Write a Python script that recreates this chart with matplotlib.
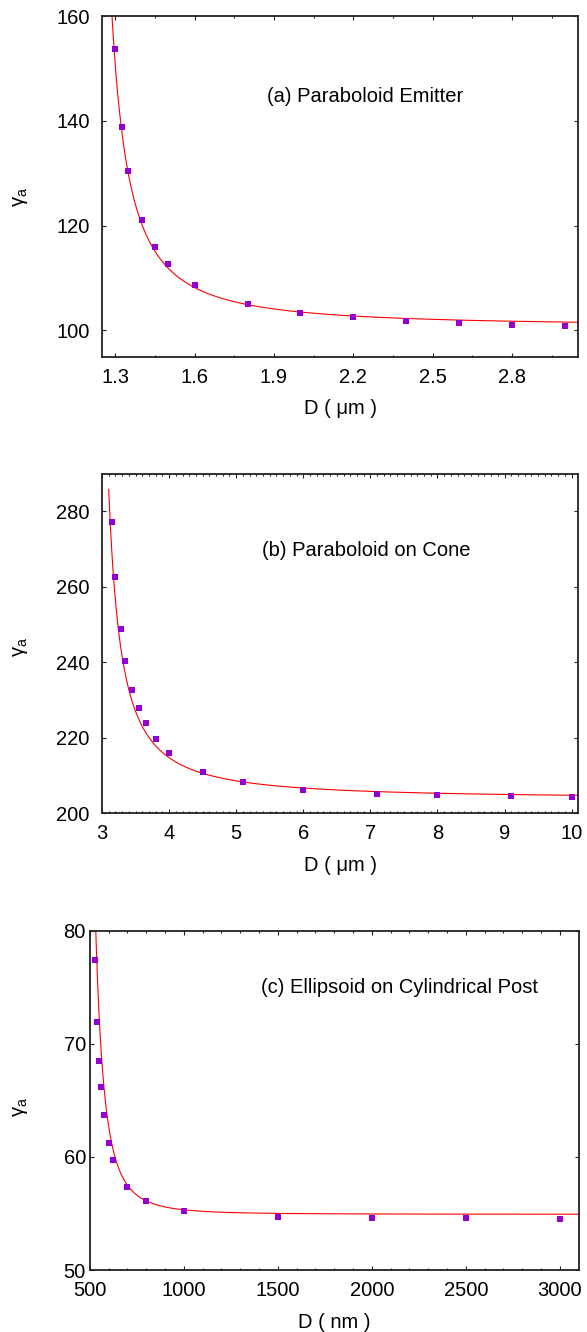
import numpy as np
import matplotlib.pyplot as plt

plt.rcParams['font.family'] = ['Liberation Sans', 'DejaVu Sans']
plt.rcParams['font.size'] = 14.5
plt.rcParams['mathtext.default'] = 'regular'

# (a) paraboloid emitter, D in um
a_D = [1.3, 1.325, 1.35, 1.4, 1.45, 1.5, 1.6, 1.8, 2.0, 2.2, 2.4, 2.6, 2.8, 3.0]
a_gamma = [153.7, 138.8, 130.4, 121.1, 116.0, 112.7, 108.7, 105.0, 103.4, 102.5,
           101.85, 101.5, 101.1, 100.9]
# (b) paraboloid on cone, D in um
b_D = [3.15, 3.2, 3.28, 3.35, 3.45, 3.55, 3.65, 3.8, 4.0, 4.5, 5.1, 6.0, 7.1, 8.0, 9.1, 10.0]
b_gamma = [277.1, 262.5, 248.9, 240.4, 232.7, 227.8, 223.8, 219.8, 216.1, 211.05,
           208.3, 206.3, 205.2, 204.95, 204.7, 204.4]
# (c) ellipsoid on cylindrical post, D in nm
c_D = [526, 537, 548, 560, 576, 601, 624, 696, 797, 1000, 1500, 2000, 2500, 3000]
c_gamma = [77.4, 71.9, 68.5, 66.2, 63.7, 61.2, 59.7, 57.3, 56.1, 55.2, 54.7, 54.6,
           54.6, 54.5]

# fitted curves: gamma = g_inf + A / (D - D0)**n
a_fit = dict(g_inf=100.7313, A=2.0574, D0=1.1905, n=1.4423)
b_fit = dict(g_inf=203.797, A=13.147, D0=2.8507, n=1.3181)
c_fit = dict(g_inf=54.9254, A=7.9483e6, D0=409.7, n=2.6342)

W, H = 587, 1332

panels = [
    dict(D=a_D, g=a_gamma, fit=a_fit, fit_from=1.2, xlim=(1.25, 3.05), ylim=(95, 160),
         xticks=[1.3, 1.6, 1.9, 2.2, 2.5, 2.8], xlabels=['1.3', '1.6', '1.9', '2.2', '2.5', '2.8'],
         xminor=[1.45, 1.75, 2.05, 2.35, 2.65, 2.95], yticks=[100, 120, 140, 160],
         title='(a) Paraboloid Emitter', tpos=(0.346, 0.763), xlabel='D ( μm )',
         box=(102, 578.3, 16, 356.7), ypad=9, ylab_y=0.47),
    dict(D=b_D, g=b_gamma, fit=b_fit, fit_from=3.1, xlim=(3, 10.1), ylim=(200, 290),
         xticks=list(range(3, 11)), xlabels=[str(v) for v in range(3, 11)],
         xminor=np.arange(3, 10.1, 0.1), yticks=[200, 220, 240, 260, 280],
         title='(b) Paraboloid on Cone', tpos=(0.335, 0.775), xlabel='D ( μm )',
         box=(102, 578.3, 473.7, 813.3), ypad=9, ylab_y=0.49),
    dict(D=c_D, g=c_gamma, fit=c_fit, fit_from=420, xlim=(500, 3100), ylim=(50, 80),
         xticks=[500, 1000, 1500, 2000, 2500, 3000],
         xlabels=['500', '1000', '1500', '2000', '2500', '3000'],
         xminor=np.arange(500, 3100, 100), yticks=[50, 60, 70, 80],
         title='(c) Ellipsoid on Cylindrical Post', tpos=(0.350, 0.833), xlabel='D ( nm )',
         box=(89.7, 578.7, 930.7, 1270), ypad=2.7, ylab_y=0.48),
]

fig = plt.figure(figsize=(W / 100, H / 100), dpi=100)

for p in panels:
    x0, x1, y0, y1 = p['box']
    ax = fig.add_axes([x0 / W, 1 - y1 / H, (x1 - x0) / W, (y1 - y0) / H])
    f = p['fit']
    Dc = np.linspace(p['fit_from'], p['xlim'][1], 2000)
    Dc = Dc[Dc > f['D0'] + 1e-6]
    ax.plot(Dc, f['g_inf'] + f['A'] / (Dc - f['D0']) ** f['n'], color='red', lw=0.8)
    ax.plot(p['D'], p['g'], 's', color='#9400d3', ms=4.2, mew=0)

    ax.set_xlim(*p['xlim'])
    ax.set_ylim(*p['ylim'])
    ax.set_xticks(p['xticks'])
    ax.set_xticklabels(p['xlabels'])
    ax.set_xticks(p['xminor'], minor=True)
    ax.set_yticks(p['yticks'])

    ax.tick_params(which='both', direction='in', top=True, right=True, width=0.8,
                   color='#222222')
    ax.tick_params(which='major', length=3.2)
    ax.tick_params(which='minor', length=1.6)
    ax.tick_params(axis='x', pad=8)
    ax.tick_params(axis='y', pad=p['ypad'])
    for s in ax.spines.values():
        s.set_linewidth(1.3)
        s.set_color('#222222')

    ax.set_xlabel(p['xlabel'])
    ax.xaxis.set_label_coords(0.5, -52 / (y1 - y0))
    ax.xaxis.label.set_va('center')
    ax.set_ylabel(r'$\mathregular{γ_a}$')
    ax.yaxis.set_label_coords((21 - x0) / (x1 - x0), p['ylab_y'])
    ax.yaxis.label.set_va('center')

    ax.text(p['tpos'][0], p['tpos'][1], p['title'], transform=ax.transAxes,
            ha='left', va='center')

fig.savefig('out.png', dpi=100)
